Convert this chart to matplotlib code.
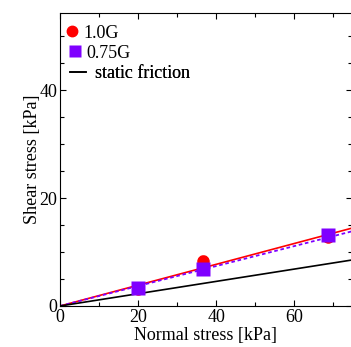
import numpy as np
import matplotlib
matplotlib.use("Agg")
import matplotlib.pyplot as plt
from matplotlib.lines import Line2D

plt.rcParams['font.family'] = ['Liberation Serif', 'DejaVu Serif']
plt.rcParams['mathtext.fontset'] = 'stix'

# shear test results
normal = [20.0, 36.6, 68.7]
shear_10g = [3.1, 8.3, 12.7]
err_10g = [0.5, 0.9, 0.5]
shear_075g = [3.3, 6.8, 13.1]

# fitted friction coefficients
mu_10g = 0.193
mu_075g = 0.185
mu_static = 0.114

RED = '#ff0000'
PURPLE = '#7f00ff'

fig = plt.figure(figsize=(3.51, 3.47), dpi=100)
ax = fig.add_axes([60/351, 41/347, 292/351, 293/347])

xs = np.array([0, 80])
ax.plot(xs, mu_10g*xs, color=RED, lw=1.2, zorder=2)
ax.plot(xs, mu_075g*xs, color=PURPLE, lw=1.3, ls=(0, (2, 1.5)), zorder=2)
ax.plot(xs, mu_static*xs, color='black', lw=1.2, zorder=2)

ax.errorbar(normal, shear_10g, yerr=err_10g, fmt='o', color=RED, ms=8,
            capsize=2.5, elinewidth=1.0, zorder=3)
ax.plot(normal, shear_075g, 's', color=PURPLE, ms=9.5, mec='none', zorder=4)

ax.set_xlim(0, 74.8)
ax.set_ylim(0, 54.3)
ax.set_xticks([0, 20, 40, 60])
ax.set_xticks([10, 30, 50, 70], minor=True)
ax.set_yticks([0, 20, 40])
ax.set_yticks([5, 10, 15, 25, 30, 35, 45, 50], minor=True)
ax.tick_params(which='both', direction='in', top=True, right=True, labelsize=13, width=0.8, pad=2)
ax.tick_params(which='major', length=4.5)
ax.tick_params(which='minor', length=3)
for s in ax.spines.values():
    s.set_linewidth(0.8)

ax.set_xlabel('Normal stress [kPa]', fontsize=13, labelpad=1)
ax.set_ylabel('Shear stress [kPa]', fontsize=13, labelpad=-1)

# legend rows, each placed on its own
keys = [
    (Line2D([], [], ls='none', marker='o', color=RED, ms=7.5), '1.0G', 66.9, 33, 0.6, 0.31),
    (Line2D([], [], ls='none', marker='s', color=PURPLE, ms=8, mec='none'), '0.75G', 69.6, 53, 0.6, 0.31),
    (Line2D([], [], color='black', lw=1.2), 'static friction', 70, 74, 0.89, 0.5),
]
for handle, text, px, py, hl, htp in keys:
    leg = ax.legend([handle], [text], loc='center left',
                    bbox_to_anchor=((px - 60)/292, (306 - py)/293),
                    frameon=False, fontsize=13, borderpad=0, borderaxespad=0,
                    handlelength=hl, handletextpad=htp)
    ax.add_artist(leg)

fig.savefig('out.png', dpi=100)
